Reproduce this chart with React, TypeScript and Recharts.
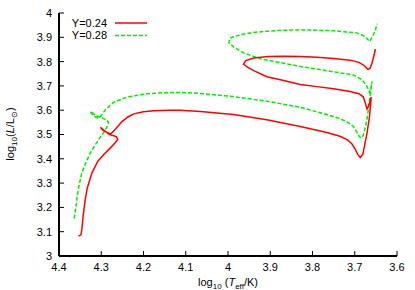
import React from 'react';
import { LineChart, Line, XAxis, YAxis, Legend } from 'recharts';

// Y=0.24 track (log Teff, log L)
const trackY024: { x: number; y: number }[] = [
  { x: 4.354, y: 3.082 }, { x: 4.348, y: 3.087 }, { x: 4.346, y: 3.108 }, { x: 4.343, y: 3.162 },
  { x: 4.338, y: 3.232 }, { x: 4.333, y: 3.280 }, { x: 4.322, y: 3.342 }, { x: 4.308, y: 3.390 },
  { x: 4.294, y: 3.418 }, { x: 4.278, y: 3.446 }, { x: 4.268, y: 3.464 }, { x: 4.261, y: 3.479 },
  { x: 4.264, y: 3.490 }, { x: 4.272, y: 3.496 }, { x: 4.281, y: 3.500 }, { x: 4.302, y: 3.530 },
  { x: 4.296, y: 3.518 }, { x: 4.288, y: 3.510 }, { x: 4.278, y: 3.502 }, { x: 4.266, y: 3.523 },
  { x: 4.251, y: 3.553 }, { x: 4.237, y: 3.572 }, { x: 4.223, y: 3.585 }, { x: 4.200, y: 3.594 },
  { x: 4.176, y: 3.598 }, { x: 4.140, y: 3.600 }, { x: 4.113, y: 3.600 }, { x: 4.065, y: 3.595 },
  { x: 3.987, y: 3.582 }, { x: 3.908, y: 3.561 }, { x: 3.829, y: 3.533 }, { x: 3.766, y: 3.508 },
  { x: 3.735, y: 3.493 }, { x: 3.718, y: 3.479 }, { x: 3.707, y: 3.462 }, { x: 3.699, y: 3.440 },
  { x: 3.693, y: 3.418 }, { x: 3.687, y: 3.405 }, { x: 3.681, y: 3.418 }, { x: 3.676, y: 3.460 },
  { x: 3.671, y: 3.506 }, { x: 3.665, y: 3.574 }, { x: 3.661, y: 3.654 }, { x: 3.665, y: 3.630 },
  { x: 3.669, y: 3.610 }, { x: 3.671, y: 3.605 }, { x: 3.675, y: 3.630 }, { x: 3.680, y: 3.655 },
  { x: 3.690, y: 3.668 }, { x: 3.711, y: 3.677 }, { x: 3.750, y: 3.688 }, { x: 3.789, y: 3.697 },
  { x: 3.829, y: 3.706 }, { x: 3.868, y: 3.722 }, { x: 3.908, y: 3.738 }, { x: 3.939, y: 3.763 },
  { x: 3.955, y: 3.778 }, { x: 3.963, y: 3.790 }, { x: 3.958, y: 3.804 }, { x: 3.939, y: 3.815 },
  { x: 3.905, y: 3.821 }, { x: 3.868, y: 3.822 }, { x: 3.829, y: 3.821 }, { x: 3.789, y: 3.818 },
  { x: 3.750, y: 3.813 }, { x: 3.711, y: 3.806 }, { x: 3.690, y: 3.797 }, { x: 3.677, y: 3.783 },
  { x: 3.669, y: 3.768 }, { x: 3.664, y: 3.772 }, { x: 3.659, y: 3.794 }, { x: 3.655, y: 3.822 },
  { x: 3.651, y: 3.852 },
];

// Y=0.28 track
const trackY028: { x: number; y: number }[] = [
  { x: 4.364, y: 3.154 }, { x: 4.360, y: 3.200 }, { x: 4.357, y: 3.245 }, { x: 4.352, y: 3.295 },
  { x: 4.346, y: 3.342 }, { x: 4.336, y: 3.385 }, { x: 4.326, y: 3.424 }, { x: 4.316, y: 3.453 },
  { x: 4.306, y: 3.479 }, { x: 4.294, y: 3.509 }, { x: 4.286, y: 3.533 }, { x: 4.283, y: 3.547 },
  { x: 4.286, y: 3.560 }, { x: 4.298, y: 3.568 }, { x: 4.310, y: 3.576 }, { x: 4.320, y: 3.588 },
  { x: 4.326, y: 3.595 }, { x: 4.318, y: 3.576 }, { x: 4.310, y: 3.568 }, { x: 4.302, y: 3.574 },
  { x: 4.290, y: 3.602 }, { x: 4.271, y: 3.632 }, { x: 4.239, y: 3.654 }, { x: 4.192, y: 3.668 },
  { x: 4.150, y: 3.672 }, { x: 4.113, y: 3.673 }, { x: 4.065, y: 3.669 }, { x: 3.987, y: 3.656 },
  { x: 3.908, y: 3.637 }, { x: 3.829, y: 3.612 }, { x: 3.766, y: 3.582 }, { x: 3.735, y: 3.565 },
  { x: 3.718, y: 3.552 }, { x: 3.703, y: 3.533 }, { x: 3.695, y: 3.510 }, { x: 3.689, y: 3.492 },
  { x: 3.685, y: 3.485 }, { x: 3.680, y: 3.495 }, { x: 3.675, y: 3.530 }, { x: 3.671, y: 3.561 },
  { x: 3.665, y: 3.643 }, { x: 3.659, y: 3.719 }, { x: 3.662, y: 3.690 }, { x: 3.665, y: 3.673 },
  { x: 3.671, y: 3.698 }, { x: 3.683, y: 3.726 }, { x: 3.703, y: 3.745 }, { x: 3.750, y: 3.758 },
  { x: 3.829, y: 3.780 }, { x: 3.880, y: 3.797 }, { x: 3.924, y: 3.812 }, { x: 3.963, y: 3.836 },
  { x: 3.985, y: 3.858 }, { x: 3.998, y: 3.878 }, { x: 3.995, y: 3.897 }, { x: 3.971, y: 3.911 },
  { x: 3.940, y: 3.920 }, { x: 3.908, y: 3.925 }, { x: 3.870, y: 3.929 }, { x: 3.829, y: 3.931 },
  { x: 3.790, y: 3.929 }, { x: 3.750, y: 3.927 }, { x: 3.695, y: 3.918 }, { x: 3.675, y: 3.903 },
  { x: 3.665, y: 3.883 }, { x: 3.657, y: 3.904 }, { x: 3.651, y: 3.931 }, { x: 3.647, y: 3.956 },
];

const xTicks = [4.4, 4.3, 4.2, 4.1, 4.0, 3.9, 3.8, 3.7, 3.6];
const yTicks = [3.0, 3.1, 3.2, 3.3, 3.4, 3.5, 3.6, 3.7, 3.8, 3.9, 4.0];
const seriesNames = ['Y=0.24', 'Y=0.28'];
const seriesColors = ['#ff0000', '#00ee00'];

const FONT = '"Liberation Sans", Arial, sans-serif';
const fmt = (v: number) => (Math.abs(v - Math.round(v)) < 1e-9 ? String(Math.round(v)) : v.toFixed(1));
const blank = () => '';

const LegendBox = () => (
  <svg width={100} height={30} style={{ display: 'block' }}>
    {seriesNames.map((n, i) => (
      <g key={n}>
        <text x={37} y={5 + i * 12.5} dy="0.35em" textAnchor="end" fontFamily={FONT} fontSize={11} fill="#000">
          {n}
        </text>
        <line
          x1={45}
          x2={77}
          y1={5 + i * 12.5}
          y2={5 + i * 12.5}
          stroke={seriesColors[i]}
          strokeWidth={1.5}
          strokeDasharray={i === 1 ? '4 2' : undefined}
        />
      </g>
    ))}
  </svg>
);

export default function App() {
  return (
    <div style={{ position: 'absolute', left: 0, top: 0, width: 415, height: 290, background: '#fff' }}>
      <LineChart width={415} height={290} margin={{ top: 13, right: 18, bottom: 0, left: 0 }}>
        <XAxis
          xAxisId="b"
          dataKey="x"
          type="number"
          domain={[3.6, 4.4]}
          reversed
          ticks={xTicks}
          tickFormatter={fmt}
          allowDataOverflow
          height={34}
          tickSize={-5}
          tickMargin={12}
          axisLine={{ stroke: '#000', strokeWidth: 2 }}
          tickLine={{ stroke: '#000', strokeWidth: 1 }}
          tick={{ fill: '#000', fontSize: 11, fontFamily: FONT }}
          interval={0}
        />
        <XAxis
          xAxisId="t"
          orientation="top"
          dataKey="x"
          type="number"
          domain={[3.6, 4.4]}
          reversed
          ticks={xTicks}
          tickFormatter={blank}
          allowDataOverflow
          height={0}
          tickSize={-5}
          tickMargin={0}
          axisLine={{ stroke: '#000', strokeWidth: 2 }}
          tickLine={{ stroke: '#000', strokeWidth: 1 }}
          interval={0}
        />
        <YAxis
          yAxisId="l"
          dataKey="y"
          type="number"
          domain={[3, 4]}
          ticks={yTicks}
          tickFormatter={fmt}
          allowDataOverflow
          width={59}
          tickSize={-5}
          tickMargin={12}
          axisLine={{ stroke: '#000', strokeWidth: 2 }}
          tickLine={{ stroke: '#000', strokeWidth: 1 }}
          tick={{ fill: '#000', fontSize: 11, fontFamily: FONT }}
          interval={0}
        />
        <YAxis
          yAxisId="r"
          orientation="right"
          dataKey="y"
          type="number"
          domain={[3, 4]}
          ticks={yTicks}
          tickFormatter={blank}
          allowDataOverflow
          width={0}
          tickSize={-5}
          tickMargin={0}
          axisLine={{ stroke: '#000', strokeWidth: 2 }}
          tickLine={{ stroke: '#000', strokeWidth: 1 }}
          interval={0}
        />
        <Legend
          layout="horizontal"
          verticalAlign="middle"
          align="center"
          content={() => <LegendBox />}
          wrapperStyle={{ position: 'absolute', left: 70, top: 18, width: 100, height: 30 }}
        />
        <Line
          xAxisId="b"
          yAxisId="l"
          data={trackY028}
          dataKey="y"
          name={seriesNames[1]}
          type="linear"
          stroke={seriesColors[1]}
          strokeWidth={1.5}
          strokeDasharray="4 2"
          dot={false}
          activeDot={false}
          isAnimationActive={false}
        />
        <Line
          xAxisId="b"
          yAxisId="l"
          data={trackY024}
          dataKey="y"
          name={seriesNames[0]}
          type="linear"
          stroke={seriesColors[0]}
          strokeWidth={1.5}
          dot={false}
          activeDot={false}
          isAnimationActive={false}
        />
      </LineChart>
      <div
        style={{
          position: 'absolute',
          left: 0,
          top: 0,
          width: 415,
          height: 290,
          pointerEvents: 'none',
        }}
      >
        <svg width={415} height={290}>
          <text
            transform="translate(14,134) rotate(-90)"
            textAnchor="middle"
            fontFamily={FONT}
            fontSize={11}
            fill="#000"
          >
            log
            <tspan fontSize={8} dy={3}>10</tspan>
            <tspan dy={-3}>(</tspan>
            <tspan fontStyle="italic">L</tspan>
            <tspan>/L</tspan>
            <tspan fontSize={8} dy={3}>⊙</tspan>
            <tspan dy={-3}>)</tspan>
          </text>
          <text x={228} y={286} textAnchor="middle" fontFamily={FONT} fontSize={11} fill="#000">
            log
            <tspan fontSize={8} dy={3}>10</tspan>
            <tspan dy={-3}> (</tspan>
            <tspan fontStyle="italic">T</tspan>
            <tspan fontSize={8} dy={3}>eff</tspan>
            <tspan dy={-3}>/K)</tspan>
          </text>
        </svg>
      </div>
    </div>
  );
}
